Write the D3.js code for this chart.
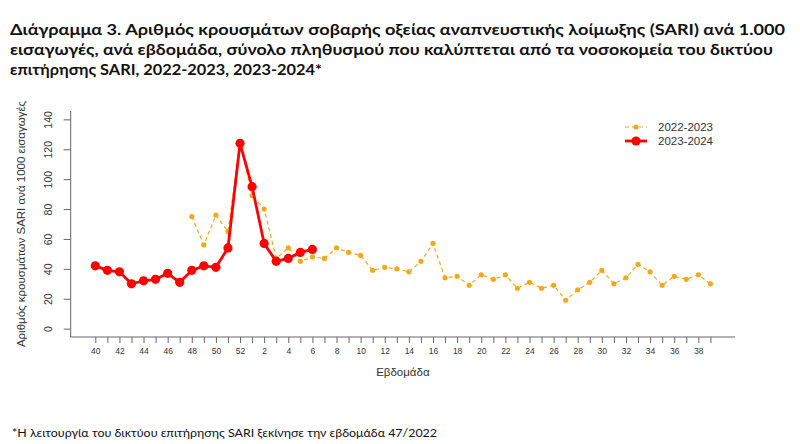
<!DOCTYPE html>
<html>
<head>
<meta charset="utf-8">
<script src="https://cdn.jsdelivr.net/npm/d3@7/dist/d3.min.js"></script>
<style>
  html, body { margin: 0; padding: 0; background: #fff; }
  svg { display: block; }
</style>
</head>
<body>
<svg id="chart" width="800" height="444"></svg>
<script>
// ---- Data ----
const weeks = [40,41,42,43,44,45,46,47,48,49,50,51,52,
  1,2,3,4,5,6,7,8,9,10,11,12,13,14,15,16,17,18,19,20,
  21,22,23,24,25,26,27,28,29,30,31,32,33,34,35,36,37,38,39];
const sari2022_23 = [null,null,null,null,null,null,null,null,
  75,56,76,65,125,
  89,80,47,54,45,48,47,54,51,49,
  39,41,40,38,45,57,34,35,29,36,
  33,36,27,31,27,29,19,26,31,39,
  30,34,43,38,29,35,33,36,30];
const sari2023_24 = [42,39,38,30,32,33,37,31,39,42,41,54,124,95,57,45,47,51,53];
const yTicks = [0,20,40,60,80,100,120,140];
const xTickLabels = weeks.filter(w => w % 2 === 0);
const seriesNames = ["2022-2023", "2023-2024"];

const titleLines = [
  "Διάγραμμα 3.  Αριθμός κρουσμάτων σοβαρής οξείας αναπνευστικής λοίμωξης (SARI) ανά 1.000",
  "εισαγωγές, ανά εβδομάδα, σύνολο πληθυσμού που καλύπτεται από τα νοσοκομεία του δικτύου",
  "επιτήρησης SARI, 2022-2023, 2023-2024*"
];
const yTitle = "Αριθμός κρουσμάτων SARI ανά 1000 εισαγωγές";
const xTitle = "Εβδομάδα";
const footnote = "*Η  λειτουργία του δικτύου επιτήρησης SARI ξεκίνησε την εβδομάδα 47/2022";

// ---- Layout ----
const svg = d3.select("#chart");
const plot = {left: 70.7, right: 735, top: 111, bottom: 337};
const n = weeks.length;
const ext = (n - 1) * 0.04;
const x = d3.scaleLinear().domain([-ext, n - 1 + ext]).range([plot.left, plot.right]);
const y = d3.scaleLinear().domain([-5.6, 145.6]).range([plot.bottom, plot.top]);
const axisColor = "#666";
const textColor = "#333";
const orange = "#F5A81C";
const red = "#FF0000";

// Title
const titleFont = "Lato, 'Open Sans', sans-serif";
const titleWidths = [775, 763, 312];
titleLines.forEach((t, i) => {
  svg.append("text")
    .attr("x", 10).attr("y", 35 + i * 20)
    .attr("font-family", titleFont).attr("font-weight", "bold")
    .attr("font-size", 14.5).attr("fill", "#111")
    .attr("textLength", titleWidths[i]).attr("lengthAdjust", "spacingAndGlyphs")
    .text(t);
});

// Footnote
svg.append("text")
  .attr("x", 12).attr("y", 437)
  .attr("font-family", titleFont).attr("font-size", 12).attr("fill", "#111")
  .attr("textLength", 425).attr("lengthAdjust", "spacingAndGlyphs")
  .text(footnote);

// Box (L-shaped)
svg.append("path")
  .attr("d", `M${plot.left},${plot.top}V${plot.bottom}H${plot.right}`)
  .attr("fill", "none").attr("stroke", axisColor).attr("stroke-width", 1);

// Y axis
const yAxis = svg.append("g")
  .attr("transform", `translate(${plot.left},0)`)
  .call(d3.axisLeft(y).tickValues(yTicks).tickSize(7).tickSizeOuter(0));
yAxis.select(".domain").remove();
yAxis.selectAll(".tick line").attr("stroke", axisColor);
yAxis.selectAll(".tick text")
  .attr("x", null).attr("dy", null)
  .attr("transform", "translate(-23,0) rotate(-90)")
  .attr("text-anchor", "middle").attr("dominant-baseline", "central")
  .attr("font-family", "'Liberation Sans', Arial, sans-serif")
  .attr("font-size", 10.5).attr("fill", textColor);

// X axis
const xAxis = svg.append("g")
  .attr("transform", `translate(0,${plot.bottom})`)
  .call(d3.axisBottom(x).tickValues(d3.range(n)).tickSize(6).tickSizeOuter(0)
    .tickFormat(i => xTickLabels.includes(weeks[i]) ? weeks[i] : ""));
xAxis.select(".domain").remove();
xAxis.selectAll(".tick line").attr("stroke", axisColor);
xAxis.selectAll(".tick text")
  .attr("y", 14).attr("dy", "0.32em")
  .attr("font-family", "'Liberation Sans', Arial, sans-serif")
  .attr("font-size", 8.5).attr("fill", textColor);

// Axis titles
svg.append("text")
  .attr("transform", `translate(21,${(plot.top + plot.bottom) / 2}) rotate(-90)`)
  .attr("text-anchor", "middle").attr("dominant-baseline", "central")
  .attr("font-family", "'Liberation Sans', Arial, sans-serif")
  .attr("font-size", 11.5).attr("fill", textColor)
  .text(yTitle);
svg.append("text")
  .attr("x", (plot.left + plot.right) / 2).attr("y", 372)
  .attr("text-anchor", "middle").attr("dominant-baseline", "central")
  .attr("font-family", "'Liberation Sans', Arial, sans-serif")
  .attr("font-size", 11.5).attr("fill", textColor)
  .text(xTitle);

// Series 2022-2023
const d1 = sari2022_23.map((v, i) => ({i, v})).filter(d => d.v !== null);
svg.append("path")
  .datum(d1)
  .attr("d", d3.line().x(d => x(d.i)).y(d => y(d.v)))
  .attr("fill", "none").attr("stroke", orange).attr("stroke-width", 1.2)
  .attr("stroke-dasharray", "4,3");
svg.append("g").selectAll("circle").data(d1).join("circle")
  .attr("cx", d => x(d.i)).attr("cy", d => y(d.v)).attr("r", 2.6)
  .attr("fill", orange);

// Series 2023-2024
const d2 = sari2023_24.map((v, i) => ({i, v}));
svg.append("path")
  .datum(d2)
  .attr("d", d3.line().x(d => x(d.i)).y(d => y(d.v)))
  .attr("fill", "none").attr("stroke", red).attr("stroke-width", 2.8);
svg.append("g").selectAll("circle").data(d2).join("circle")
  .attr("cx", d => x(d.i)).attr("cy", d => y(d.v)).attr("r", 4.6)
  .attr("fill", red);

// Legend
const legend = svg.append("g");
const lx = 625, lw = 22;
[{name: seriesNames[0], c: orange, dash: "4,3", sw: 1.2, r: 2.6, yy: 127},
 {name: seriesNames[1], c: red, dash: null, sw: 2.8, r: 4.6, yy: 141}].forEach(s => {
  legend.append("line")
    .attr("x1", lx).attr("x2", lx + lw).attr("y1", s.yy).attr("y2", s.yy)
    .attr("stroke", s.c).attr("stroke-width", s.sw)
    .attr("stroke-dasharray", s.dash);
  legend.append("circle").attr("cx", lx + lw / 2).attr("cy", s.yy).attr("r", s.r).attr("fill", s.c);
  legend.append("text").attr("x", 658).attr("y", s.yy)
    .attr("dominant-baseline", "central")
    .attr("font-family", "'Liberation Sans', Arial, sans-serif")
    .attr("font-size", 11.5).attr("fill", textColor)
    .text(s.name);
});
</script>
</body>
</html>
